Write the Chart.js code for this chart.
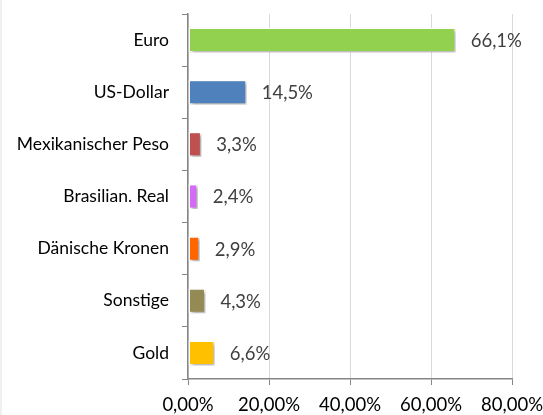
<!DOCTYPE html>
<html><head><meta charset="utf-8">
<script src="https://cdn.jsdelivr.net/npm/chart.js@4/dist/chart.umd.min.js"></script>
<style>html,body{margin:0;padding:0;background:#fff}#wrap{width:543px;height:415px;position:relative}</style>
</head><body><div id="wrap"><canvas id="c"></canvas></div>
<script>
const categories = ["Euro","US-Dollar","Mexikanischer Peso","Brasilian. Real","Dänische Kronen","Sonstige","Gold"];
const values = [66.1, 14.5, 3.3, 2.4, 2.9, 4.3, 6.6];
const valueLabels = ["66,1%","14,5%","3,3%","2,4%","2,9%","4,3%","6,6%"];
const barColors = ["#92d050","#4f81bd","#c0504d","#d36bf6","#ff6600","#948a54","#ffc000"];
const xTicks = ["0,00%","20,00%","40,00%","60,00%","80,00%"];

const FONT = "Lato, 'Open Sans', 'Liberation Sans', sans-serif";

const edgePlugin = {
  id: 'edge',
  beforeDraw(chart){
    const ctx = chart.ctx; ctx.save();
    ctx.fillStyle = '#f0f0f0';
    ctx.fillRect(0, 0, 2, chart.height);
    ctx.restore();
  }
};

const shadowPlugin = {
  id: 'shadow',
  beforeDatasetsDraw(chart){
    const ctx = chart.ctx; ctx.save();
    ctx.shadowColor = 'rgba(0,0,0,0.35)';
    ctx.shadowOffsetX = 2; ctx.shadowOffsetY = 2; ctx.shadowBlur = 3;
  },
  afterDatasetsDraw(chart){
    const ctx = chart.ctx; ctx.restore();
    const meta = chart.getDatasetMeta(0);
    ctx.save();
    ctx.font = "18.5px " + FONT;
    ctx.fillStyle = "#404040";
    ctx.textAlign = "left"; ctx.textBaseline = "middle";
    meta.data.forEach((bar, i) => {
      ctx.fillText(valueLabels[i], bar.x + 15, bar.y + 1);
    });
    ctx.restore();
  }
};

new Chart(document.getElementById('c'), {
  type: 'bar',
  data: {
    labels: categories,
    datasets: [{
      data: values,
      backgroundColor: barColors,
      borderColor: '#ffffff',
      borderWidth: 1.5,
      borderSkipped: false,
      categoryPercentage: 1.0,
      barPercentage: 0.48
    }]
  },
  options: {
    indexAxis: 'y',
    responsive: true,
    maintainAspectRatio: false,
    animation: false,
    layout: { padding: { top: 14, right: 31, left: 0, bottom: 0 } },
    plugins: { legend: { display: false }, tooltip: { enabled: false } },
    scales: {
      x: {
        min: 0, max: 80,
        ticks: {
          stepSize: 20,
          color: '#000000',
          font: { family: FONT, size: 18.5 },
          padding: 9,
          maxRotation: 0,
          autoSkip: false,
          callback: (v) => xTicks[Math.round(v/20)]
        },
        grid: { color: '#d9d9d9', lineWidth: 1, tickColor: '#868686', tickLength: 6 },
        border: { color: '#868686', width: 1.5 },
        afterFit: (s) => { s.height = 36; s.paddingLeft = 0; s.paddingRight = 0; s.paddingTop = 0; s.paddingBottom = 0; }
      },
      y: {
        ticks: {
          color: '#000000',
          font: { family: FONT, size: 17.5 },
          padding: 13
        },
        grid: { offset: true, drawOnChartArea: false, tickColor: '#868686', tickLength: 6 },
        border: { color: '#868686', width: 1.5 },
        afterFit: (s) => { s.width = 188; s.paddingLeft = 0; s.paddingRight = 0; s.paddingTop = 0; s.paddingBottom = 0; }
      }
    }
  },
  plugins: [edgePlugin, shadowPlugin]
});
</script>
</body></html>
